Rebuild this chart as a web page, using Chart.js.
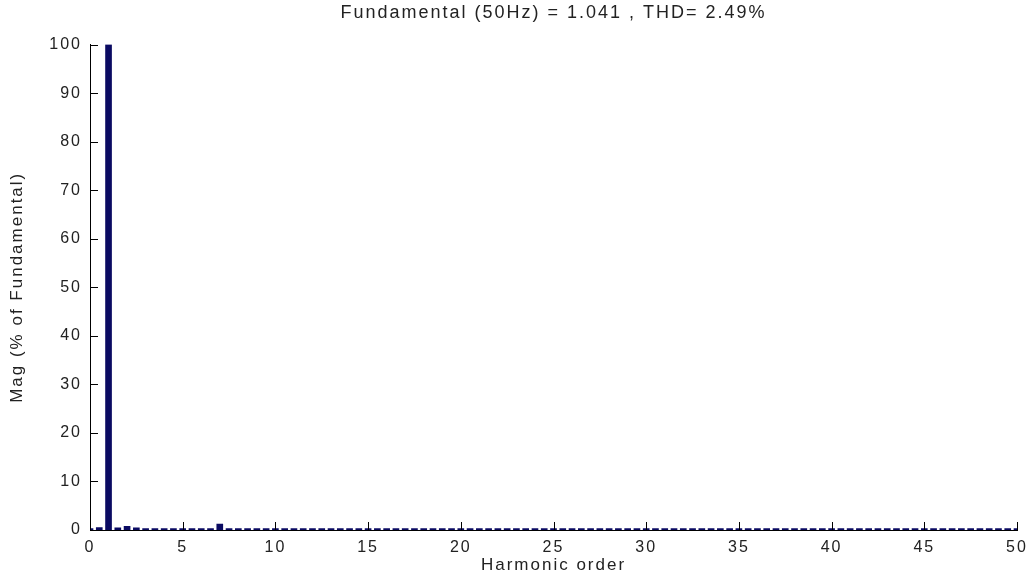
<!DOCTYPE html>
<html>
<head>
<meta charset="utf-8">
<script src="https://cdn.jsdelivr.net/npm/chart.js@4/dist/chart.umd.min.js"></script>
<style>
    body { margin: 0; background: #fff; }
    #wrap { width: 1030px; height: 577px; }
</style>
</head>
<body>
<div id="wrap"><canvas id="myChart"></canvas></div>
<script>
// harmonic order (0.5 resolution) and magnitude in % of fundamental
var harmonicOrder = [
    0, 0.5, 1, 1.5, 2, 2.5, 3, 3.5, 4, 4.5, 5, 5.5, 6, 6.5, 7, 7.5, 8, 8.5, 9, 9.5,
    10, 10.5, 11, 11.5, 12, 12.5, 13, 13.5, 14, 14.5, 15, 15.5, 16, 16.5, 17, 17.5, 18, 18.5, 19, 19.5,
    20, 20.5, 21, 21.5, 22, 22.5, 23, 23.5, 24, 24.5, 25, 25.5, 26, 26.5, 27, 27.5, 28, 28.5, 29, 29.5,
    30, 30.5, 31, 31.5, 32, 32.5, 33, 33.5, 34, 34.5, 35, 35.5, 36, 36.5, 37, 37.5, 38, 38.5, 39, 39.5,
    40, 40.5, 41, 41.5, 42, 42.5, 43, 43.5, 44, 44.5, 45, 45.5, 46, 46.5, 47, 47.5, 48, 48.5, 49, 49.5,
    50
];
var magnitude = [
    0.3, 0.5, 100, 0.45, 0.75, 0.45, 0.3, 0.3, 0.3, 0.3, 0.3, 0.3, 0.3, 0.3, 1.2, 0.3, 0.3, 0.3, 0.3, 0.3,
    0.3, 0.3, 0.3, 0.3, 0.3, 0.3, 0.3, 0.3, 0.3, 0.3, 0.3, 0.3, 0.3, 0.3, 0.3, 0.3, 0.3, 0.3, 0.3, 0.3,
    0.3, 0.3, 0.3, 0.3, 0.3, 0.3, 0.3, 0.3, 0.3, 0.3, 0.3, 0.3, 0.3, 0.3, 0.3, 0.3, 0.3, 0.3, 0.3, 0.3,
    0.3, 0.3, 0.3, 0.3, 0.3, 0.3, 0.3, 0.3, 0.3, 0.3, 0.3, 0.3, 0.3, 0.3, 0.3, 0.3, 0.3, 0.3, 0.3, 0.3,
    0.3, 0.3, 0.3, 0.3, 0.3, 0.3, 0.3, 0.3, 0.3, 0.3, 0.3, 0.3, 0.3, 0.3, 0.3, 0.3, 0.3, 0.3, 0.3, 0.3,
    0.3
];
var xTicks = [0, 5, 10, 15, 20, 25, 30, 35, 40, 45, 50];
var yTicks = [0, 10, 20, 30, 40, 50, 60, 70, 80, 90, 100];
var titleText = 'Fundamental (50Hz) = 1.041 , THD= 2.49%';

Chart.defaults.font.family = '"Liberation Sans", Arial, sans-serif';
Chart.defaults.color = '#222';

// MATLAB style: ticks point into the axes, text a bit wider
var inwardTicks = {
    id: 'inwardTicks',
    beforeLayout: function (chart) {
        chart.ctx.letterSpacing = '2px';
    },
    beforeDraw: function (chart) {
        chart.ctx.letterSpacing = '2px';
    },
    afterDatasetsDraw: function (chart) {
        var ctx = chart.ctx;
        var x = chart.scales.x, y = chart.scales.y;
        var area = chart.chartArea;
        ctx.save();
        ctx.strokeStyle = '#000';
        ctx.lineWidth = 1;
        ctx.beginPath();
        xTicks.forEach(function (t) {
            var px = Math.round(x.getPixelForValue(t)) + 0.5;
            ctx.moveTo(px, area.bottom);
            ctx.lineTo(px, area.bottom - 8);
        });
        yTicks.forEach(function (t) {
            var py = Math.round(y.getPixelForValue(t)) + 0.5;
            ctx.moveTo(area.left, py);
            ctx.lineTo(area.left + 8, py);
        });
        ctx.stroke();
        ctx.restore();
    }
};

var ctx = document.getElementById('myChart').getContext('2d');
var chart = new Chart(ctx, {
    type: 'bar',
    data: {
        datasets: [{
            data: harmonicOrder.map(function (h, i) { return { x: h, y: magnitude[i] }; }),
            backgroundColor: '#0a0a62',
            borderWidth: 0,
            barThickness: 6
        }]
    },
    options: {
        responsive: true,
        maintainAspectRatio: false,
        animation: false,
        layout: { padding: { right: 13 } },
        plugins: {
            legend: { display: false },
            tooltip: { enabled: false },
            title: {
                display: true,
                fullSize: false,
                text: titleText,
                color: '#222',
                font: { size: 18, weight: 'normal' },
                padding: { top: 2, bottom: 21 }
            }
        },
        scales: {
            x: {
                type: 'linear',
                min: 0,
                max: 50,
                offset: false,
                grid: { display: false, drawTicks: false },
                border: { display: true, color: '#000', width: 1 },
                ticks: { stepSize: 5, padding: 8, font: { size: 16 }, color: '#222', maxRotation: 0 },
                title: { display: true, text: 'Harmonic order', font: { size: 17 }, color: '#222', padding: { top: 0, bottom: 1 } },
                afterFit: function (scale) {
                    scale.height = 47;
                    scale.paddingLeft = 0;
                    scale.paddingRight = 0;
                }
            },
            y: {
                min: 0,
                max: 100,
                grid: { display: false, drawTicks: false },
                border: { display: true, color: '#000', width: 1 },
                ticks: { stepSize: 10, padding: 8, font: { size: 16 }, color: '#222' },
                title: { display: true, text: 'Mag (% of Fundamental)', font: { size: 17 }, color: '#222', padding: { top: 7, bottom: 0 } },
                afterFit: function (scale) { scale.width = 90; }
            }
        }
    },
    plugins: [inwardTicks]
});
</script>
</body>
</html>
